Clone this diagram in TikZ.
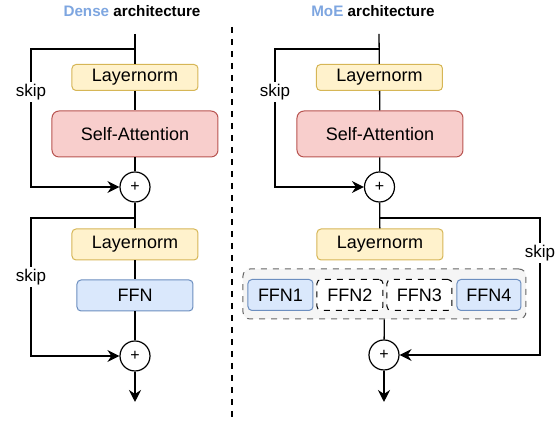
\documentclass[tikz,border=0pt]{standalone}
\usepackage{fontspec}
\setmainfont{Liberation Sans}
\usetikzlibrary{arrows.meta,positioning}
\definecolor{normfill}{HTML}{FFF2CC}
\definecolor{normline}{HTML}{D6B656}
\definecolor{attnfill}{HTML}{F8CECC}
\definecolor{attnline}{HTML}{B85450}
\definecolor{ffnfill}{HTML}{DAE8FC}
\definecolor{ffnline}{HTML}{6C8EBF}
\definecolor{groupfill}{HTML}{F5F5F5}
\definecolor{groupline}{HTML}{666666}
\definecolor{archblue}{HTML}{7EA6E0}
\tikzset{
  block/.style={draw, line width=0.5pt, rounded corners=2pt, inner sep=0pt,
    font=\fontsize{9}{11}\selectfont},
  norm/.style={block, fill=normfill, draw=normline, minimum width=63pt},
  attn/.style={block, fill=attnfill, draw=attnline, rounded corners=3.5pt,
    minimum width=83pt, minimum height=23pt},
  ffn/.style={block, fill=ffnfill, draw=ffnline, minimum height=15.5pt},
  idle/.style={block, fill=white, dashed, minimum height=15.5pt},
  addop/.style={circle, draw, line width=0.6pt, fill=white, inner sep=0pt,
    minimum size=15pt, font=\fontsize{8}{9}\selectfont},
  skiplabel/.style={fill=white, inner sep=1pt, font=\fontsize{8.5}{10}\selectfont},
  title/.style={font=\bfseries\fontsize{7.6}{9}\selectfont},
  arr/.style={-{Stealth[length=6pt, width=6pt, inset=2pt]}},
}
\begin{document}
\begin{tikzpicture}[x=0.5pt, y=-0.5pt, line width=0.65pt]
\useasboundingbox (0,0) rectangle (559,421);
\node[title] (tdense) at (132,11) {\textcolor{archblue}{Dense} architecture};
\node[title] (tmoe) at (373,11) {\textcolor{archblue}{MoE} architecture};
\draw[dashed, line width=0.6pt] (232,27) -- (232,418);

% dense
\coordinate (lin) at (135,34);
\coordinate (lsplit1) at (135,49);
\node[norm, minimum height=13pt] (lnorm1) at (135,77.5) {Layernorm};
\node[attn] (lattn) at (135,134) {Self-Attention};
\node[addop] (ladd1) at (135,187) {+};
\coordinate (lsplit2) at (135,218);
\node[norm, minimum height=15.5pt] (lnorm2) at (135,244.5) {Layernorm};
\node[ffn, minimum width=58pt] (lffn) at (135,295.5) {FFN};
\node[addop] (ladd2) at (135,356) {+};
\coordinate (lout) at (135,402);

\draw (lin) -- (lnorm1) -- (lattn) -- (ladd1) -- (lnorm2) -- (lffn) -- (ladd2);
\draw[arr] (ladd2) -- (lout);
\draw[arr] (lsplit1) -- ++(-104,0) |- node[pos=0.156, skiplabel] {skip} (ladd1);
\draw[arr] (lsplit2) -- ++(-104,0) |- node[pos=0.214, skiplabel] {skip} (ladd2);

% moe
\coordinate (rin) at (379,34);
\coordinate (rsplit1) at (379,49);
\node[norm, minimum height=13pt] (rnorm1) at (379.5,77.5) {Layernorm};
\node[attn] (rattn) at (380,134) {Self-Attention};
\node[addop] (radd1) at (379.5,187) {+};
\coordinate (rsplit2) at (379.5,218);
\node[norm, minimum height=15.5pt] (rnorm2) at (380,244.5) {Layernorm};
\node[block, fill=groupfill, draw=groupline, dashed, rounded corners=3.5pt,
  minimum width=141.5pt, minimum height=25pt] (experts) at (384.5,294) {};
\node[ffn, minimum width=32.5pt] (ffn1) at (280.5,295) {FFN1};
\node[idle, minimum width=33pt] (ffn2) at (350,295) {FFN2};
\node[idle, minimum width=32.5pt] (ffn3) at (419.5,295) {FFN3};
\node[ffn, minimum width=32pt] (ffn4) at (489,295) {FFN4};
\node[addop] (radd2) at (384,355) {+};
\coordinate (rout) at (384,402);

\draw (rin) -- (rnorm1) -- (rattn) -- (radd1) -- (rnorm2);
\draw (experts) -- (radd2);
\draw[arr] (radd2) -- (rout);
\draw[arr] (rsplit1) -- ++(-104,0) |- node[pos=0.156, skiplabel] {skip} (radd1);
\draw[arr] (rsplit2) -- ++(160.5,0) |- node[pos=0.128, skiplabel] {skip} (radd2);
\end{tikzpicture}
\end{document}
